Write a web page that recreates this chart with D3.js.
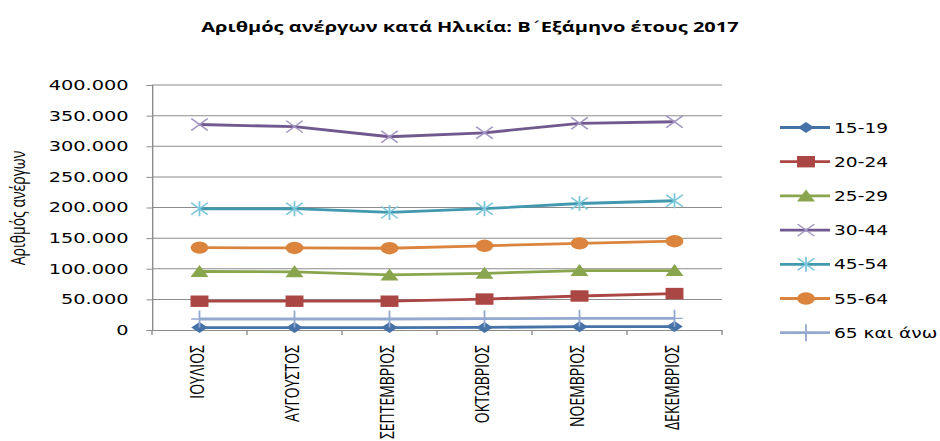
<!DOCTYPE html>
<html><head><meta charset="utf-8">
<script src="https://cdnjs.cloudflare.com/ajax/libs/d3/7.8.5/d3.min.js"></script>
<style>body{margin:0;background:#fff}svg{display:block}</style>
</head><body>
<script>
const titleA = "Αριθμός ανέργων κατά Ηλικία: Β";
const titleB = "΄";
const titleC = "Εξάμηνο έτους 2017";
const yLabel = "Αριθμός ανέργων";
const months = ["ΙΟΥΛΙΟΣ","ΑΥΓΟΥΣΤΟΣ","ΣΕΠΤΕΜΒΡΙΟΣ","ΟΚΤΩΒΡΙΟΣ","ΝΟΕΜΒΡΙΟΣ","ΔΕΚΕΜΒΡΙΟΣ"];
const seriesNames = ["15-19","20-24","25-29","30-44","45-54","55-64","65 και άνω"];
const v15_19 = [4000,4000,4000,4200,5500,5600];
const v20_24 = [47000,47000,47000,50500,55500,59500];
const v25_29 = [95500,95000,90000,92500,97000,97000];
const v30_44 = [335500,332000,315500,322000,337500,340000];
const v45_54 = [198000,198000,192000,198000,206500,211000];
const v55_64 = [134500,134000,133500,137500,141500,145000];
const v65 = [18000,18000,18000,18500,19000,19000];
const yTicks = [0,50000,100000,150000,200000,250000,300000,350000,400000];

const colors = ["#4572A7","#AA4643","#89A54E","#71588F","#4198AF","#DB843D","#93A9CF"];
const markerColors = ["#4572A7","#AA4643","#89A54E","#A496C4","#7CC6DA","#DB843D","#93A9CF"];
const markers = ["diamond","square","triangle","x","star","circle","plus"];
const allValues = [v15_19,v20_24,v25_29,v30_44,v45_54,v55_64,v65];

const SX = 1.38, H = 441, W = 940 / SX;
const svg = d3.select("body").append("svg")
  .attr("width", 940).attr("height", H)
  .attr("viewBox", `0 0 ${W} ${H}`).attr("preserveAspectRatio","none");

const L = 152/SX, R = 722/SX, T = 85, B = 330;
const x = d3.scaleBand().domain(months).range([L, R]);
const y = d3.scaleLinear().domain([0, 400000]).range([B, T]);
const loc = d3.formatLocale({decimal:",", thousands:".", grouping:[3], currency:["","€"]});
const fmt = loc.format(",");

const tt = svg.append("text").attr("x", W/2).attr("y", 32).attr("text-anchor","middle")
  .style("font-family","'Open Sans', sans-serif").style("font-weight","bold").style("font-size","14.5px")
  .attr("fill","#000");
tt.append("tspan").text(titleA);
tt.append("tspan").style("font-family","'DejaVu Sans', sans-serif").style("font-weight","normal").text(titleB);
tt.append("tspan").text(titleC);

// gridlines
svg.append("g").selectAll("line").data(yTicks.filter(d=>d>0)).join("line")
  .attr("x1", L).attr("x2", R).attr("y1", d=>y(d)).attr("y2", d=>y(d))
  .attr("stroke","#8c8c8c").attr("stroke-width",1);

// y axis
const ya = svg.append("g").attr("transform",`translate(${L},0)`)
  .call(d3.axisLeft(y).tickValues(yTicks).tickFormat(fmt).tickSize(4).tickPadding(13));
ya.select(".domain").attr("stroke","#8c8c8c");
ya.selectAll(".tick line").attr("stroke","#8c8c8c");
ya.selectAll("text").style("font-family","'DejaVu Sans', sans-serif").style("font-size","14px").attr("fill","#000");

// x axis
const xa = svg.append("g").attr("transform",`translate(0,${B})`)
  .call(d3.axisBottom(x).tickSize(0).tickFormat(""));
xa.select(".domain").attr("stroke","#8c8c8c");
svg.append("g").selectAll("line").data(months).join("line")
  .attr("x1", d=>x(d)+x.bandwidth()).attr("x2", d=>x(d)+x.bandwidth())
  .attr("y1", B).attr("y2", B+5).attr("stroke","#8c8c8c");
svg.append("line").attr("x1",L).attr("x2",L).attr("y1",B).attr("y2",B+5).attr("stroke","#8c8c8c");

svg.append("g").selectAll("text").data(months).join("text")
  .attr("transform", d=>`translate(${x(d)+x.bandwidth()/2 + 3.5},345) rotate(-90)`)
  .attr("text-anchor","end")
  .style("font-family","'Open Sans', sans-serif").style("font-size","14px").attr("fill","#000")
  .text(d=>d);

// y label
svg.append("text").attr("transform",`translate(${19/SX + 4},${208}) rotate(-90)`)
  .attr("text-anchor","middle")
  .style("font-family","'Open Sans', sans-serif").style("font-size","14px").attr("fill","#000")
  .text(yLabel);

function drawMarker(g, type, color) {
  if (type === "diamond") g.append("path").attr("d","M0,-5.5L6,0L0,5.5L-6,0Z").attr("fill",color);
  else if (type === "square") g.append("rect").attr("x",-6.5).attr("y",-5.7).attr("width",13).attr("height",11.4).attr("fill",color);
  else if (type === "triangle") g.append("path").attr("d","M0,-6.5L6.5,5.5L-6.5,5.5Z").attr("fill",color);
  else if (type === "circle") g.append("ellipse").attr("rx",6.4).attr("ry",6.2).attr("fill",color);
  else if (type === "x") g.append("path").attr("d","M-6,-6L6,6M-6,6L6,-6").attr("stroke",color).attr("stroke-width",1.3).attr("fill","none");
  else if (type === "star") g.append("path").attr("d","M-6,-6L6,6M-6,6L6,-6M0,-7.5L0,7.5").attr("stroke",color).attr("stroke-width",1.3).attr("fill","none");
  else if (type === "plus") g.append("path").attr("d","M0,-8.5L0,8.5M-6,0L6,0").attr("stroke",color).attr("stroke-width",1.3).attr("fill","none");
}

const line = d3.line().x((d,i)=>x(months[i])+x.bandwidth()/2).y(d=>y(d));
allValues.forEach((vals, si) => {
  const g = svg.append("g");
  g.append("path").datum(vals).attr("d", line).attr("fill","none")
    .attr("stroke", colors[si]).attr("stroke-width", 2.8).attr("stroke-linejoin","round");
  vals.forEach((v,i) => {
    const m = g.append("g").attr("transform",`translate(${x(months[i])+x.bandwidth()/2},${y(v)})`);
    drawMarker(m, markers[si], markerColors[si]);
  });
});

// legend
const lg = svg.append("g");
seriesNames.forEach((name, si) => {
  const yy = 127.5 + si*34.2;
  const g = lg.append("g").attr("transform",`translate(0,${yy})`);
  g.append("line").attr("x1",780/SX).attr("x2",830/SX).attr("y1",0).attr("y2",0)
    .attr("stroke",colors[si]).attr("stroke-width",2.8);
  const m = g.append("g").attr("transform",`translate(${806/SX},0)`);
  drawMarker(m, markers[si], markerColors[si]);
  g.append("text").attr("x",834/SX).attr("y",5)
    .style("font-family","'DejaVu Sans', sans-serif").style("font-size","13.5px").attr("fill","#000")
    .text(name);
});
</script>
</body></html>
